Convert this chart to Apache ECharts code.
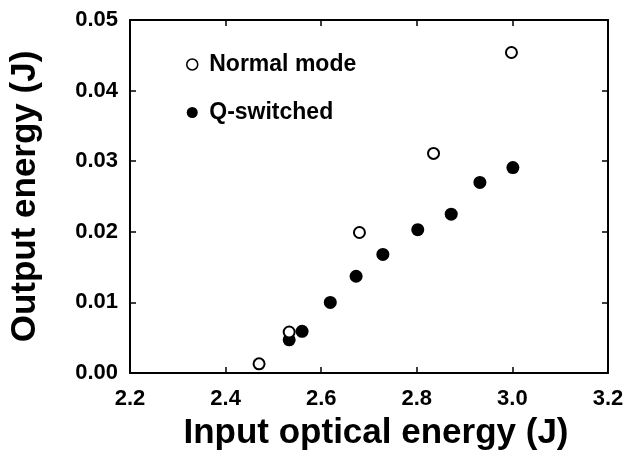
<!DOCTYPE html>
<html>
<head>
<meta charset="utf-8">
<script src="https://cdn.jsdelivr.net/npm/echarts@6/dist/echarts.min.js"></script>
<style>
html,body{margin:0;padding:0;background:#fff;}
#c{width:633px;height:461px;}
</style>
</head>
<body>
<div id="c"></div>
<script>
const xNormal = [2.47, 2.533, 2.68, 2.835, 2.998];
const yNormal = [0.0013, 0.0058, 0.0199, 0.0311, 0.0454];
const xQ = [2.533, 2.56, 2.619, 2.673, 2.729, 2.802, 2.872, 2.932, 3.001];
const yQ = [0.0047, 0.0059, 0.0100, 0.0137, 0.0168, 0.0203, 0.0225, 0.0270, 0.0291];
const seriesNames = ['Normal mode', 'Q-switched'];
const xTitle = 'Input optical energy (J)';
const yTitle = 'Output energy (J)';

const FONT = '"Liberation Sans", Arial, Helvetica, sans-serif';
const chart = echarts.init(document.getElementById('c'));
const axisLineStyle = {color: '#000', width: 2};
const tickStyle = {show: true, inside: true, length: 6, lineStyle: {color: '#000', width: 1.5}};
chart.setOption({
  animation: false,
  backgroundColor: '#fff',
  grid: {left: 130, right: 25, top: 20, bottom: 88},
  legend: {
    orient: 'vertical', left: 181, top: 48, itemGap: 25,
    itemWidth: 24, itemHeight: 11,
    textStyle: {fontFamily: FONT, fontWeight: 'bold', fontSize: 23, color: '#000'},
    data: [
      {name: seriesNames[0], icon: 'circle', itemStyle: {color: '#fff', borderColor: '#000', borderWidth: 1.5}},
      {name: seriesNames[1], icon: 'circle', itemStyle: {color: '#000', borderWidth: 0}}
    ]
  },
  xAxis: [{
    type: 'value', min: 2.2, max: 3.2, interval: 0.2,
    name: xTitle, nameLocation: 'middle', nameGap: 43,
    nameTextStyle: {fontFamily: FONT, fontWeight: 'bold', fontSize: 35, color: '#000', padding: [0, 0, 0, 14]},
    axisLine: {show: true, onZero: false, lineStyle: axisLineStyle},
    axisTick: tickStyle,
    axisLabel: {margin: 15, fontFamily: FONT, fontWeight: 'bold', fontSize: 22, color: '#000',
      formatter: v => v.toFixed(1)},
    splitLine: {show: false}
  }, {
    type: 'value', position: 'top', min: 2.2, max: 3.2, interval: 0.2,
    axisLine: {show: true, onZero: false, lineStyle: axisLineStyle},
    axisTick: tickStyle,
    axisLabel: {show: false}, splitLine: {show: false}
  }],
  yAxis: [{
    type: 'value', min: 0, max: 0.05, interval: 0.01,
    name: yTitle, nameLocation: 'middle', nameGap: 87,
    nameTextStyle: {fontFamily: FONT, fontWeight: 'bold', fontSize: 35, color: '#000'},
    axisLine: {show: true, onZero: false, lineStyle: axisLineStyle},
    axisTick: tickStyle,
    axisLabel: {margin: 12, fontFamily: FONT, fontWeight: 'bold', fontSize: 22, color: '#000',
      formatter: v => v.toFixed(2)},
    splitLine: {show: false}
  }, {
    type: 'value', position: 'right', min: 0, max: 0.05, interval: 0.01,
    axisLine: {show: true, onZero: false, lineStyle: axisLineStyle},
    axisTick: tickStyle,
    axisLabel: {show: false}, splitLine: {show: false}
  }],
  series: [{
    name: seriesNames[0], type: 'scatter', symbol: 'circle', symbolSize: 11,
    itemStyle: {color: '#fff', borderColor: '#000', borderWidth: 2, opacity: 1},
    data: xNormal.map((x, i) => [x, yNormal[i]]), z: 3
  }, {
    name: seriesNames[1], type: 'scatter', symbol: 'circle', symbolSize: 13,
    itemStyle: {color: '#000', opacity: 1},
    data: xQ.map((x, i) => [x, yQ[i]]), z: 2
  }]
});
</script>
</body>
</html>
